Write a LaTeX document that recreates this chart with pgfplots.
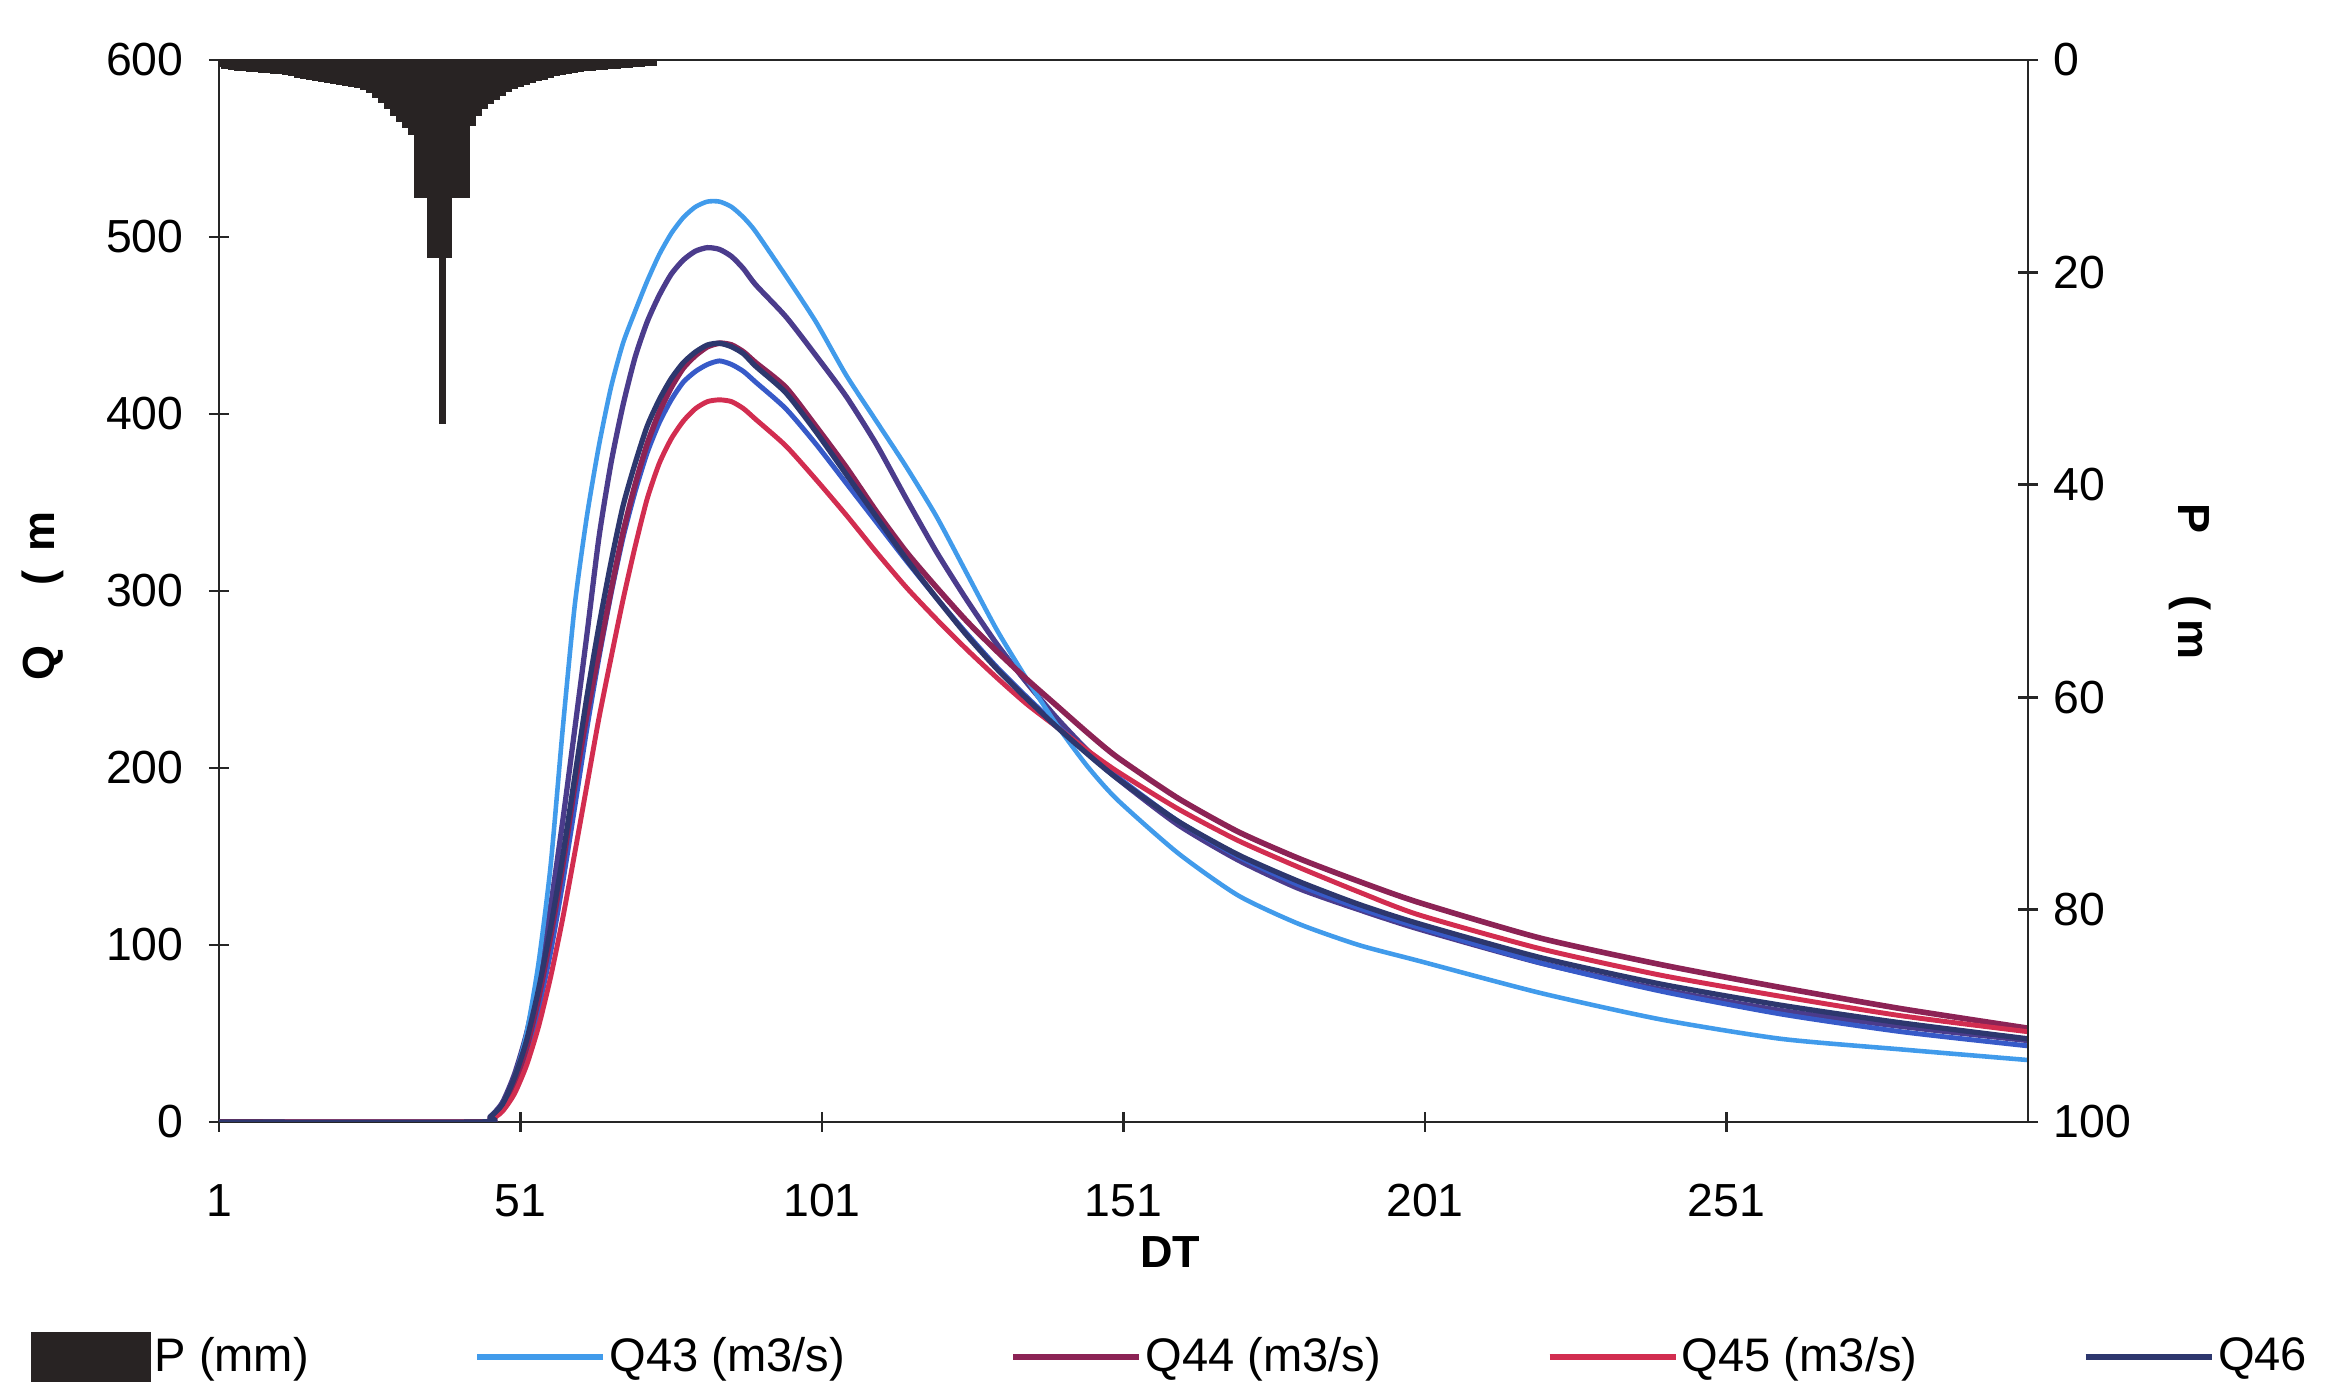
\documentclass[border=0pt]{standalone}
\usepackage{pgfplots}
\pgfplotsset{compat=1.18}
\usepackage{pgfplotstable}
\usepackage{fontspec}
\setmainfont{Liberation Sans}
\definecolor{pcol}{RGB}{40,35,35}
\definecolor{cQA}{RGB}{65,155,235}
\definecolor{cQB}{RGB}{140,35,85}
\definecolor{cQC}{RGB}{210,45,80}
\definecolor{cQD}{RGB}{45,55,110}
\definecolor{cQE}{RGB}{75,60,140}
\definecolor{cQF}{RGB}{55,90,200}

\pgfplotstableread{
DT  Q43 Q44 Q45 Q46 QA  QB
1   0   0   0   0   0   0
44  0   0   0   0   0   0
46  2   2   1   3   3   2
48  10  8   6   10  11  8
50  25  22  16  25  27  20
52  50  42  32  46  50  38
54  90  70  54  75  82  64
56  145 105 82  110 122 96
58  222 145 115 150 170 135
60  292 190 152 195 222 178
62  342 230 190 240 275 222
64  382 265 228 280 330 262
66  415 300 262 316 372 298
68  440 333 295 348 405 330
70  458 360 325 372 432 356
72  475 383 352 393 452 378
74  490 401 372 408 467 395
76  502 415 386 420 479 408
78  511 426 396 429 487 418
80  517 433 403 435 492 424
82  520 438 407 439 494 428
84  520 440 408 440 493 430
86  517 439 407 438 489 428
88  511 435 403 434 482 424
90  503 429 397 427 473 418
95  478 415 382 412 455 403
100 452 393 363 390 433 383
105 422 370 343 366 410 361
110 396 345 322 342 383 339
115 370 322 302 318 352 317
120 342 302 284 296 322 296
125 310 283 267 275 295 276
130 278 266 251 256 270 257
135 250 250 236 239 248 240
140 224 235 223 223 228 224
145 201 220 210 208 210 209
150 182 206 198 194 194 195
160 152 183 177 170 168 170
170 128 164 159 151 148 150
180 112 149 144 136 132 134
190 100 136 130 123 120 121
200 91  124 117 112 109 110
220 73  104 98  93  90  90
240 58  89  83  78  75  74
260 47  76  71  66  63  61
280 41  64  60  56  54  51
301 35  53  51  47  46  43
}\qtab

\pgfplotstableread{
DT P
1 0.6
2 0.8
3 0.9
4 1.0
5 1.0
6 1.1
7 1.1
8 1.2
9 1.2
10 1.3
11 1.3
12 1.4
13 1.5
14 1.6
15 1.7
16 1.8
17 1.9
18 2.0
19 2.1
20 2.2
21 2.3
22 2.4
23 2.5
24 2.6
25 2.8
26 3.1
27 3.5
28 4.0
29 4.6
30 5.2
31 5.8
32 6.4
33 7.0
34 12.9
35 12.9
36 18.6
37 18.6
38 34.2
39 18.6
40 12.9
41 12.9
42 12.9
43 6.2
44 5.2
45 4.6
46 4.1
47 3.7
48 3.3
49 3.0
50 2.7
51 2.5
52 2.3
53 2.1
54 1.9
55 1.8
56 1.6
57 1.5
58 1.4
59 1.3
60 1.2
61 1.1
62 1.0
63 1.0
64 0.9
65 0.9
66 0.8
67 0.8
68 0.7
69 0.7
70 0.6
71 0.6
72 0.5
73 0.5
}\ptab

\begin{document}
\begin{tikzpicture}
\pgfplotsset{
  base/.style={
    scale only axis, width=18.09cm, height=10.62cm,
    xmin=1, xmax=301,
    tick align=center, major tick length=0.2cm,
    axis line style={line width=0.8pt, black!85},
    every tick/.style={black!85, line width=0.8pt},
    tick label style={font=\fontsize{13.2}{15}\selectfont},
    /pgf/number format/assume math mode=true,
  }
}
\begin{axis}[base,
  ymin=0, ymax=600, ytick={0,100,...,600},
  xtick={1,51,101,151,201,251},
  xtick pos=bottom, ytick pos=left,
  xticklabel style={yshift=-0.4cm},
  yticklabel style={xshift=-0.13cm},
  legend columns=5,
  legend style={at={(-0.1045,-0.2213)}, anchor=west, draw=none, fill=none,
    inner sep=0pt, font=\fontsize{13.4}{15}\selectfont,
    /tikz/every even column/.append style={column sep=1.62cm},
    nodes={inner sep=1pt}},
  legend image code/.code={\draw[#1, line width=1.6pt] (0cm,0cm) -- (1.26cm,0cm);},
]
\addlegendimage{legend image code/.code={\fill[pcol] (0cm,-0.24cm) rectangle (1.19cm,0.24cm);}}
\addlegendentry{P (mm)}
\addplot[cQE, line width=1.5pt, smooth, tension=0.4, forget plot] table[x=DT, y=QA] {\qtab};
\addplot[cQF, line width=1.4pt, smooth, tension=0.4, forget plot] table[x=DT, y=QB] {\qtab};
\addplot[cQA, line width=1.3pt, smooth, tension=0.4] table[x=DT, y=Q43] {\qtab};
\addlegendentry{Q43 (m3/s)}
\addplot[cQB, line width=1.6pt, smooth, tension=0.4] table[x=DT, y=Q44] {\qtab};
\addlegendentry{Q44 (m3/s)}
\addplot[cQC, line width=1.4pt, smooth, tension=0.4] table[x=DT, y=Q45] {\qtab};
\addlegendentry{Q45 (m3/s)}
\addplot[cQD, line width=1.5pt, smooth, tension=0.4] table[x=DT, y=Q46] {\qtab};
\addlegendentry{Q46}
\end{axis}

\begin{axis}[base,
  axis x line=none, axis y line*=right,
  ymin=0, ymax=100, y dir=reverse, ytick={0,20,...,100},
  yticklabel style={xshift=0.03cm},
]
\addplot[ybar, bar width=1, bar shift=0pt, fill=pcol, draw=pcol, line width=0.3pt] table[x=DT, y=P] {\ptab};
\end{axis}

\node[rotate=90, font=\fontsize{12.8}{14}\selectfont\bfseries] at (-1.76,5.26) {Q\hspace{6mm}(\hspace{1.9mm}m};
\node[rotate=-90, font=\fontsize{12.8}{14}\selectfont\bfseries] at (19.71,5.40) {P\hspace{6.2mm}(\hspace{0.9mm}m};
\node[font=\fontsize{12.8}{14}\selectfont\bfseries] at (9.51,-1.30) {DT};

\pgfresetboundingbox
\useasboundingbox (-2.19,-2.64) rectangle (21.19,11.22);
\end{tikzpicture}
\end{document}
